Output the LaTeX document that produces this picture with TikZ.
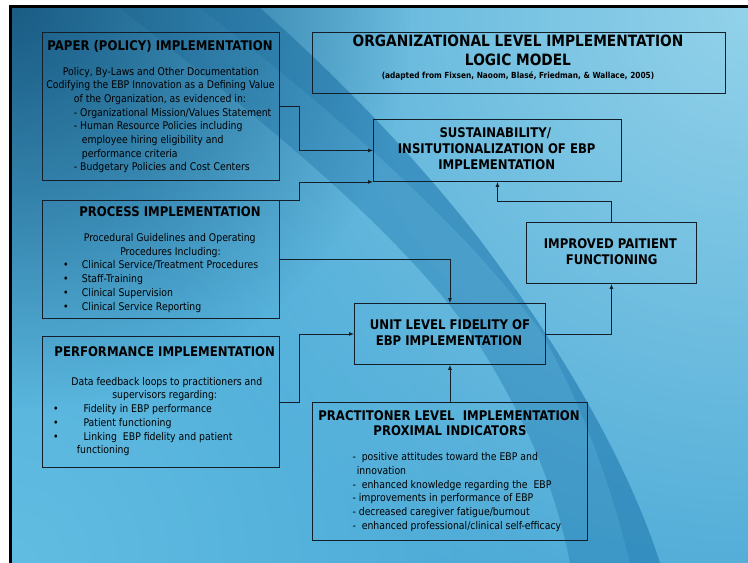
\documentclass[tikz,border=0pt]{standalone}
\usepackage{fontspec}
\setmainfont{DejaVu Sans}[FakeStretch=0.88]
\usetikzlibrary{arrows.meta,fadings}
\definecolor{bgbase}{HTML}{4AA9D6}
\definecolor{bgdark}{HTML}{1A5C84}
\definecolor{bgband}{HTML}{1F78AE}
\definecolor{bglight}{HTML}{93D2EA}
\definecolor{bgbl}{HTML}{62BDE2}
\definecolor{boxline}{HTML}{141E28}
\tikzfading[name=glowfade, inner color=transparent!0, outer color=transparent!100]
\begin{document}
\begin{tikzpicture}[x=1pt,y=-1pt,
  box/.style={draw=boxline, line width=0.9pt, inner sep=0pt, anchor=north west},
  head/.style={font=\bfseries\fontsize{13.3}{15}\selectfont, inner sep=0pt, anchor=base},
  titlef/.style={font=\bfseries\fontsize{15.6}{17}\selectfont, inner sep=0pt, anchor=base},
  small/.style={font=\bfseries\fontsize{8.4}{9}\selectfont, inner sep=0pt, anchor=base},
  body/.style={font=\fontsize{10.6}{12}\selectfont, inner sep=0pt, anchor=base},
  bodyl/.style={body, anchor=base west},
  conn/.style={draw=boxline, line width=0.8pt, -{Latex[length=5pt,width=4pt]}}
]
% background
\useasboundingbox (0,0) rectangle (748,563);
\fill[white] (0,0) rectangle (748,563);
\fill[bgbase] (12,8) rectangle (748,563);
\begin{scope}
\clip (12,8) rectangle (748,563);
\fill[bglight, path fading=glowfade] (748,8) circle (640);
\fill[bgbl, path fading=glowfade] (12,563) circle (520);
\fill[bgband, opacity=0.4] (120,8) .. controls (260,120) and (430,250) .. (500,380) .. controls (540,450) and (560,510) .. (570,563) -- (660,563) .. controls (630,470) and (570,360) .. (480,240) .. controls (410,150) and (330,70) .. (260,8) -- cycle;
\fill[bgband, opacity=0.3] (200,8) .. controls (320,100) and (460,220) .. (540,330) .. controls (580,400) and (610,480) .. (630,563) -- (660,563) .. controls (630,470) and (570,360) .. (480,240) .. controls (410,150) and (330,70) .. (260,8) -- cycle;
\fill[bgdark, path fading=glowfade] (12,8) circle (400);
\end{scope}
\draw[black, line width=3pt] (10.5,563) -- (10.5,6.5) -- (748,6.5);

% boxes
\node[box, minimum width=237pt, minimum height=148pt] (paper) at (42,32) {};
\node[box, minimum width=413pt, minimum height=61pt] (title) at (312,32) {};
\node[box, minimum width=248pt, minimum height=62pt] (sust) at (373,119) {};
\node[box, minimum width=237pt, minimum height=118pt] (process) at (42,200) {};
\node[box, minimum width=237pt, minimum height=131pt] (perf) at (42,336) {};
\node[box, minimum width=170pt, minimum height=61pt] (impr) at (526,222) {};
\node[box, minimum width=191pt, minimum height=61pt] (unit) at (354,303) {};
\node[box, minimum width=275pt, minimum height=138pt] (pract) at (312,402) {};

% title
\node[titlef] (tt1) at (518,46.7) {ORGANIZATIONAL LEVEL IMPLEMENTATION};
\node[titlef] (tt2) at (518,65) {LOGIC MODEL};
\node[small] (tt3) at (518,78.3) {(adapted from Fixsen, Naoom, Blasé, Friedman, \& Wallace, 2005)};

% paper
\node[head] (ph) at (160,50) {PAPER (POLICY) IMPLEMENTATION};
\node[body] (p1) at (161,75) {Policy, By-Laws and Other Documentation};
\node[body] (p2) at (160.5,88.7) {Codifying the EBP Innovation as a Defining Value};
\node[body] (p3) at (160,102.4) {of the Organization, as evidenced in:};
\node[bodyl] (p4) at (73.7,116.1) {- Organizational Mission/Values Statement};
\node[bodyl] (p5) at (73.7,129.8) {- Human Resource Policies including};
\node[bodyl] (p6) at (81.7,143.5) {employee hiring eligibility and};
\node[bodyl] (p7) at (81.7,157.2) {performance criteria};
\node[bodyl] (p8) at (73.7,170.9) {- Budgetary Policies and Cost Centers};

% process
\node[head] (prh) at (170,216.5) {PROCESS IMPLEMENTATION};
\node[body] (pr1) at (169.7,241.7) {Procedural Guidelines and Operating};
\node[body] (pr2) at (170.5,255.4) {Procedures Including:};
\node[body] (prb1) at (66,268.5) {•};
\node[body] (prb2) at (66,282.5) {•};
\node[body] (prb3) at (66,296.3) {•};
\node[body] (prb4) at (66,310) {•};
\node[bodyl] (pr3) at (81.7,268.5) {Clinical Service/Treatment Procedures};
\node[bodyl] (pr4) at (81.7,282.5) {Staff-Training};
\node[bodyl] (pr5) at (81.7,296.3) {Clinical Supervision};
\node[bodyl] (pr6) at (81.7,310) {Clinical Service Reporting};

% performance
\node[head] (peh) at (164.7,356.5) {PERFORMANCE IMPLEMENTATION};
\node[body] (pe1) at (166.8,385) {Data feedback loops to practitioners and};
\node[body] (pe2) at (164.7,398.7) {supervisors regarding:};
\node[body] (peb1) at (56,412.4) {•};
\node[body] (peb2) at (56,426) {•};
\node[body] (peb3) at (56,440) {•};
\node[bodyl] (pe3) at (83.3,412.4) {Fidelity in EBP performance};
\node[bodyl] (pe4) at (83.3,426) {Patient functioning};
\node[bodyl] (pe5) at (83.3,440) {Linking~~EBP fidelity and patient};
\node[bodyl] (pe6) at (76.7,453.7) {functioning};

% sustainability
\node[head] (s1) at (495.3,137.7) {SUSTAINABILITY/};
\node[head] (s2) at (496.7,153.3) {INSITUTIONALIZATION OF EBP};
\node[head] (s3) at (496.7,169.3) {IMPLEMENTATION};

% improved
\node[head] (i1) at (610.3,248.3) {IMPROVED PAITIENT};
\node[head] (i2) at (611.7,264) {FUNCTIONING};

% unit
\node[head] (u1) at (450,329.3) {UNIT LEVEL FIDELITY OF};
\node[head] (u2) at (449,345) {EBP IMPLEMENTATION};

% practitioner
\node[head] (ah1) at (449,420) {PRACTITONER LEVEL~~IMPLEMENTATION};
\node[head] (ah2) at (450,435.7) {PROXIMAL INDICATORS};
\node[bodyl] (a1) at (352.3,460.7) {-~~positive attitudes toward the EBP and};
\node[bodyl] (a2) at (356.7,474.4) {innovation};
\node[bodyl] (a3) at (352.3,488) {-~~enhanced knowledge regarding the~~EBP};
\node[bodyl] (a4) at (352.3,501.7) {- improvements in performance of EBP};
\node[bodyl] (a5) at (352.3,515.4) {- decreased caregiver fatigue/burnout};
\node[bodyl] (a6) at (352.3,529) {-~~enhanced professional/clinical self-efficacy};

% connectors
\draw[conn] (paper.east) -- ++(19,0) |- (sust.west);
\draw[conn] (process.north east) -- ++(19,0) |- (sust.south west);
\draw[conn] (process.east) -| (unit.north);
\draw[conn] (perf.east) -- ++(19,0) |- (unit.west);
\draw[conn] (pract.north) -- (unit.south);
\draw[conn] (unit.east) -| (impr.south);
\draw[conn] (impr.north) -- ++(0,-21) -| (sust.south);
\end{tikzpicture}
\end{document}
